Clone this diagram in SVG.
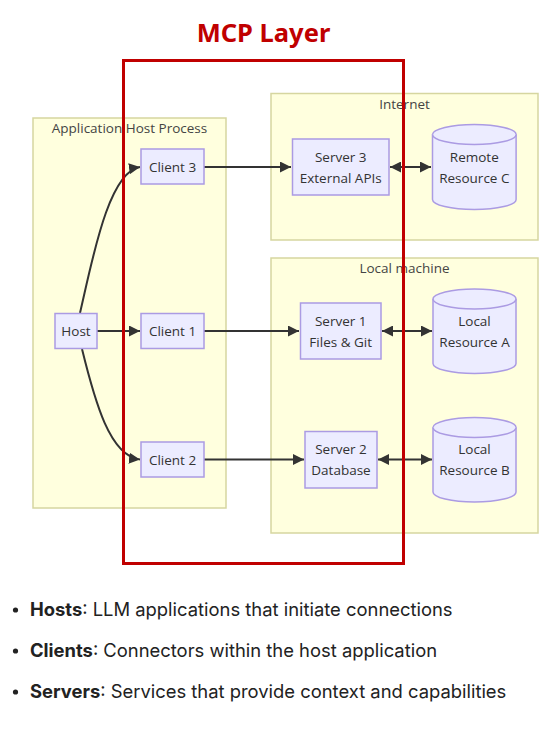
<svg xmlns="http://www.w3.org/2000/svg" width="554" height="733" viewBox="0 0 554 733">
<defs>
<style>
.sg{fill:#ffffde;stroke:#d6d6a0;stroke-width:1.5}
.sgl{font-family:"Open Sans","DejaVu Sans",sans-serif;font-size:13.5px;fill:#444;text-anchor:middle}
.nd{fill:#ececff;stroke:#ab9be3;stroke-width:1.5}
.nt{font-family:"Open Sans","DejaVu Sans",sans-serif;font-size:13.5px;fill:#333;text-anchor:middle}
.ln{fill:none;stroke:#333;stroke-width:2}
.bl{font-family:Inter,"Liberation Sans",Arial,sans-serif;font-size:18.4px;fill:#222}
</style>
<marker id="ah" viewBox="0 0 10 10" refX="10" refY="5" markerWidth="11" markerHeight="11" markerUnits="userSpaceOnUse" orient="auto-start-reverse">
<path d="M0,0 L10,5 L0,10 z" fill="#333"/>
</marker>
</defs>
<rect width="554" height="733" fill="#ffffff"/>

<g id="sg-app"><rect class="sg" x="33" y="118" width="193" height="390"/><text class="sgl" x="129.5" y="133">Application Host Process</text></g>
<g id="sg-internet"><rect class="sg" x="271" y="93.5" width="267" height="146.5"/><text class="sgl" x="404.5" y="109">Internet</text></g>
<g id="sg-local"><rect class="sg" x="271" y="258" width="267" height="275"/><text class="sgl" x="404.5" y="273">Local machine</text></g>

<g id="connectors">
<path class="ln" d="M80,313 C92,262 108,172 140,167" marker-end="url(#ah)"/>
<path class="ln" d="M97,331 L140,331" marker-end="url(#ah)"/>
<path class="ln" d="M82,349 C95,402 110,456 140,459.5" marker-end="url(#ah)"/>
<path class="ln" d="M204,167 L291,167" marker-end="url(#ah)"/>
<path class="ln" d="M204,331 L299,331" marker-end="url(#ah)"/>
<path class="ln" d="M204,459.5 L304,459.5" marker-end="url(#ah)"/>
<path class="ln" d="M390,167 L431,167" marker-start="url(#ah)" marker-end="url(#ah)"/>
<path class="ln" d="M382,331 L432,331" marker-start="url(#ah)" marker-end="url(#ah)"/>
<path class="ln" d="M378,459.5 L432,459.5" marker-start="url(#ah)" marker-end="url(#ah)"/>
</g>

<g id="host"><rect class="nd" x="55" y="313.5" width="42" height="35"/><text class="nt" x="76" y="336">Host</text></g>
<g id="client3"><rect class="nd" x="141" y="149" width="63" height="35"/><text class="nt" x="172.5" y="171.5">Client 3</text></g>
<g id="client1"><rect class="nd" x="141" y="313.5" width="63" height="35"/><text class="nt" x="172.5" y="336">Client 1</text></g>
<g id="client2"><rect class="nd" x="141" y="442" width="63" height="35"/><text class="nt" x="172.5" y="464.5">Client 2</text></g>

<g id="server3"><rect class="nd" x="292.5" y="139" width="96.5" height="56"/><text class="nt" x="340.7" y="162">Server 3</text><text class="nt" x="340.7" y="183">External APIs</text></g>
<g id="server1"><rect class="nd" x="300.5" y="303" width="80.5" height="56"/><text class="nt" x="340.7" y="326">Server 1</text><text class="nt" x="340.7" y="347">Files &amp; Git</text></g>
<g id="server2"><rect class="nd" x="305" y="431.5" width="72" height="56.5"/><text class="nt" x="341" y="454">Server 2</text><text class="nt" x="341" y="475">Database</text></g>

<g id="resC"><path class="nd" d="M432.5,134.5 a41.8,10 0 0 1 83.6,0 v65 a41.8,10 0 0 1 -83.6,0 z"/><path class="nd" fill="none" d="M432.5,134.5 a41.8,10 0 0 0 83.6,0"/><text class="nt" x="474.3" y="162">Remote</text><text class="nt" x="474.3" y="183">Resource C</text></g>
<g id="resA"><path class="nd" d="M433,299 a41.5,10 0 0 1 83,0 v64.5 a41.5,10 0 0 1 -83,0 z"/><path class="nd" fill="none" d="M433,299 a41.5,10 0 0 0 83,0"/><text class="nt" x="474.5" y="326">Local</text><text class="nt" x="474.5" y="347">Resource A</text></g>
<g id="resB"><path class="nd" d="M433,427.5 a41.5,10 0 0 1 83,0 v64.5 a41.5,10 0 0 1 -83,0 z"/><path class="nd" fill="none" d="M433,427.5 a41.5,10 0 0 0 83,0"/><text class="nt" x="474.5" y="454">Local</text><text class="nt" x="474.5" y="475">Resource B</text></g>

<g id="mcp-layer">
<rect x="123.5" y="60.5" width="280" height="503" fill="none" stroke="#c00000" stroke-width="3"/>
<text x="263.5" y="42" font-family="'Noto Sans','DejaVu Sans',sans-serif" font-weight="bold" font-size="25.5" fill="#c00000" text-anchor="middle">MCP Layer</text>
</g>

<g id="legend">
<circle cx="15.5" cy="610" r="2.6" fill="#222"/>
<text class="bl" x="30" y="616"><tspan font-weight="bold">Hosts</tspan>: LLM applications that initiate connections</text>
<circle cx="15.5" cy="651" r="2.6" fill="#222"/>
<text class="bl" x="30" y="657"><tspan font-weight="bold">Clients</tspan>: Connectors within the host application</text>
<circle cx="15.5" cy="692" r="2.6" fill="#222"/>
<text class="bl" x="30" y="698"><tspan font-weight="bold">Servers</tspan>: Services that provide context and capabilities</text>
</g>
</svg>
